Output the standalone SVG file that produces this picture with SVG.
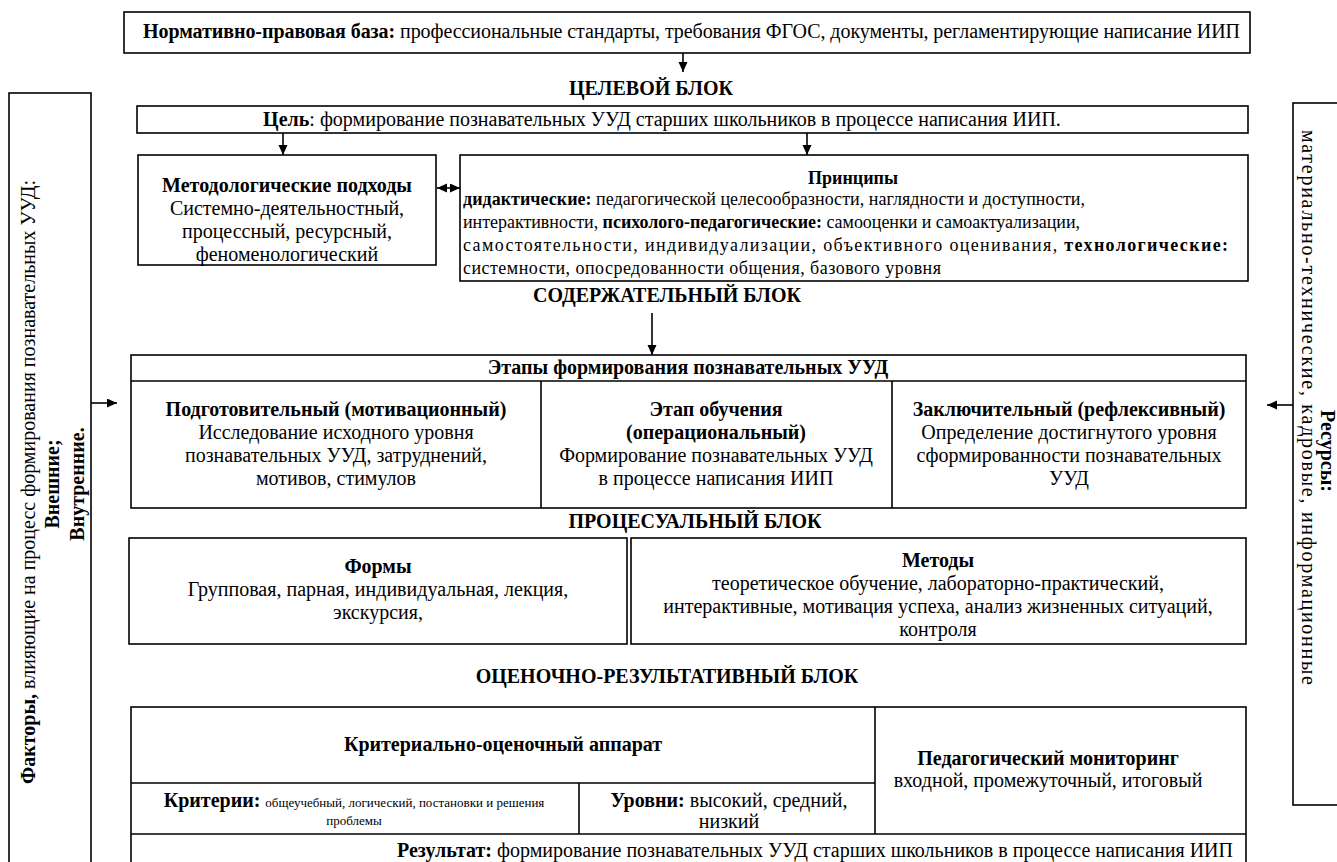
<svg xmlns="http://www.w3.org/2000/svg" width="1337" height="862" viewBox="0 0 1337 862" font-family="'Liberation Serif', 'Times New Roman', Tinos, 'DejaVu Serif', serif">
<defs>
<marker id="ah" markerWidth="10" markerHeight="10" refX="10" refY="4.5" orient="auto-start-reverse" markerUnits="userSpaceOnUse"><path d="M0,0 L10,4.5 L0,9 z" fill="#000"/></marker>
</defs>
<style>
.box{fill:#fff;stroke:#000;stroke-width:1.6}
.ln{fill:none;stroke:#000;stroke-width:1.6}
text{font-family:'Liberation Serif','Times New Roman',Tinos,'DejaVu Serif',serif;font-size:20px;fill:#000}
.b{font-weight:bold}
.c{text-anchor:middle}
.p{font-size:18px}
.s{font-size:13px}
</style>
<rect width="1337" height="862" fill="#fff"/>

<g id="connectors">
<path class="ln" d="M683,53 V72" marker-end="url(#ah)"/>
<path class="ln" d="M283,133 V155" marker-end="url(#ah)"/>
<path class="ln" d="M807,133 V155" marker-end="url(#ah)"/>
<path class="ln" d="M437,188 H460" marker-start="url(#ah)" marker-end="url(#ah)"/>
<path class="ln" d="M652,313 V355" marker-end="url(#ah)"/>
<path class="ln" d="M91,403 H117" marker-end="url(#ah)"/>
<path class="ln" d="M1293,405 H1267" marker-end="url(#ah)"/>
</g>

<g id="normative">
<rect class="box" x="124" y="12" width="1126" height="41"/>
<text x="143" y="38" textLength="1097" lengthAdjust="spacing"><tspan class="b">Нормативно-правовая  база:</tspan> профессиональные стандарты, требования ФГОС, документы, регламентирующие написание ИИП</text>
</g>

<g id="title-target">
<text class="b c" x="651" y="95">ЦЕЛЕВОЙ БЛОК</text>
</g>

<g id="goal">
<rect class="box" x="137" y="106" width="1111" height="27"/>
<text class="c" x="662" y="126"><tspan class="b">Цель</tspan>: формирование познавательных УУД старших школьников в процессе написания ИИП.</text>
</g>

<g id="approaches">
<rect class="box" x="138" y="155" width="298" height="110"/>
<text class="b c" x="287" y="192">Методологические  подходы</text>
<text class="c" x="287" y="215">Системно-деятельностный,</text>
<text class="c" x="287" y="238">процессный, ресурсный,</text>
<text class="c" x="287" y="261">феноменологический</text>
</g>

<g id="principles">
<rect class="box" x="460" y="155" width="788" height="126"/>
<text class="p b c" x="853" y="184">Принципы</text>
<text class="p" x="463" y="205" textLength="622" lengthAdjust="spacing"><tspan class="b">дидактические:</tspan>  педагогической целесообразности, наглядности и доступности,</text>
<text class="p" x="463" y="228" textLength="617" lengthAdjust="spacing">интерактивности, <tspan class="b">психолого-педагогические:</tspan>  самооценки и самоактуализации,</text>
<text class="p" x="463" y="251" textLength="765" lengthAdjust="spacing">самостоятельности, индивидуализации, объективного оценивания, <tspan class="b">технологические:</tspan></text>
<text class="p" x="463" y="274" textLength="478" lengthAdjust="spacing">системности, опосредованности общения, базового уровня</text>
</g>

<g id="title-content">
<text class="b c" x="667" y="302">СОДЕРЖАТЕЛЬНЫЙ  БЛОК</text>
</g>

<g id="stages">
<rect class="box" x="131" y="355" width="1115" height="153"/>
<path class="ln" d="M131,381 H1246 M541,381 V508 M892,381 V508"/>
<text class="b c" x="688" y="374">Этапы формирования  познавательных  УУД</text>
<text class="b c" x="336" y="416">Подготовительный  (мотивационный)</text>
<text class="c" x="336" y="439">Исследование исходного уровня</text>
<text class="c" x="336" y="462">познавательных УУД, затруднений,</text>
<text class="c" x="336" y="485">мотивов, стимулов</text>
<text class="b c" x="716" y="416">Этап обучения</text>
<text class="b c" x="716" y="439">(операциональный)</text>
<text class="c" x="716" y="462">Формирование познавательных УУД</text>
<text class="c" x="716" y="485">в процессе написания ИИП</text>
<text class="b c" x="1069" y="416">Заключительный  (рефлексивный)</text>
<text class="c" x="1069" y="439">Определение достигнутого уровня</text>
<text class="c" x="1069" y="462">сформированности познавательных</text>
<text class="c" x="1069" y="485">УУД</text>
</g>

<g id="title-process">
<text class="b c" x="695" y="528">ПРОЦЕСУАЛЬНЫЙ  БЛОК</text>
</g>

<g id="forms">
<rect class="box" x="129" y="538" width="498" height="106"/>
<text class="b c" x="378" y="573">Формы</text>
<text class="c" x="378" y="596">Групповая, парная, индивидуальная, лекция,</text>
<text class="c" x="378" y="619">экскурсия,</text>
</g>

<g id="methods">
<rect class="box" x="631" y="538" width="615" height="106"/>
<text class="b c" x="938" y="567">Методы</text>
<text class="c" x="938" y="590">теоретическое обучение, лабораторно-практический,</text>
<text class="c" x="938" y="613">интерактивные, мотивация успеха, анализ жизненных ситуаций,</text>
<text class="c" x="938" y="636">контроля</text>
</g>

<g id="title-eval">
<text class="b c" x="667" y="683">ОЦЕНОЧНО-РЕЗУЛЬТАТИВНЫЙ  БЛОК</text>
</g>

<g id="evaluation">
<rect class="box" x="131" y="707" width="1115" height="170"/>
<path class="ln" d="M875,707 V834 M131,783 H875 M579,783 V834 M131,834 H1246"/>
<text class="b c" x="503" y="751">Критериально-оценочный  аппарат</text>
<text class="b c" x="1048" y="765">Педагогический мониторинг</text>
<text class="c" x="1048" y="787">входной, промежуточный, итоговый</text>
<text class="c" x="354" y="807"><tspan class="b">Критерии:</tspan> <tspan class="s">общеучебный, логический, постановки и решения</tspan></text>
<text class="s c" x="354" y="825">проблемы</text>
<text class="c" x="729" y="807"><tspan class="b">Уровни:</tspan> высокий, средний,</text>
<text class="c" x="729" y="828">низкий</text>
<text x="397" y="857"><tspan class="b">Результат:</tspan> формирование познавательных УУД старших школьников в процессе написания ИИП</text>
</g>

<g id="factors">
<rect class="box" x="9" y="93" width="82" height="790"/>
<text class="c" transform="translate(35,482) rotate(-90)"><tspan class="b">Факторы,</tspan> влияющие на процесс формирования познавательных УУД:</text>
<text class="b c" transform="translate(59,484) rotate(-90)">Внешние;</text>
<text class="b c" transform="translate(84,484) rotate(-90)">Внутренние.</text>
</g>

<g id="resources">
<rect class="box" x="1293" y="103" width="60" height="702"/>
<text class="b c" transform="translate(1321,451) rotate(90)">Ресурсы:</text>
<text transform="translate(1302,130) rotate(90)" textLength="555" lengthAdjust="spacing">материально-технические,  кадровые,  информационные</text>
</g>
</svg>
